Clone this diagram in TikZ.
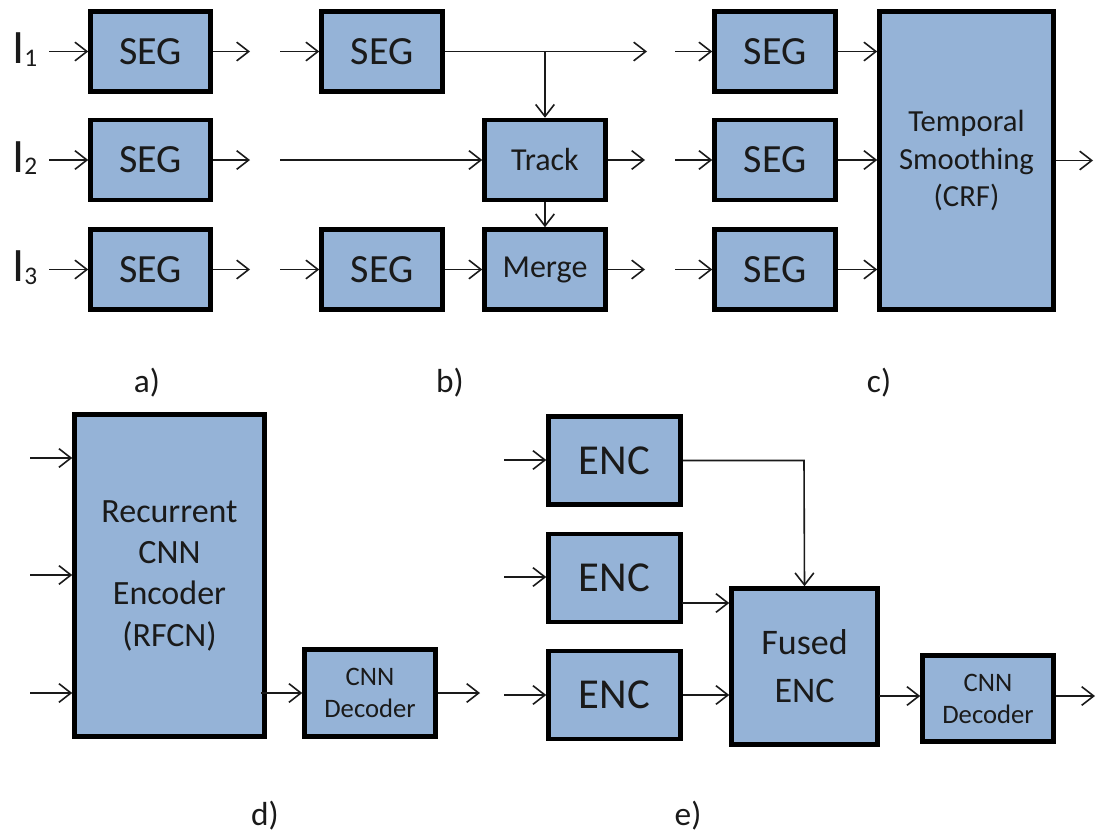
\documentclass[tikz,border=0pt]{standalone}
\usepackage{fontspec}
\setmainfont{Carlito}
\usetikzlibrary{arrows.meta}
\definecolor{boxblue}{HTML}{95B3D7}
\definecolor{ink}{HTML}{1A1A1A}
\begin{document}
\begin{tikzpicture}[x=0.75pt,y=-0.75pt,
  blk/.style={draw=black,line width=3.4pt,fill=boxblue,inner sep=0pt,align=center,text=ink},
  sz/.style 2 args={minimum width=#1*0.75pt,minimum height=#2*0.75pt},
  segf/.style={font=\fontsize{30}{36}\selectfont},
  midf/.style={font=\fontsize{24}{29}\selectfont},
  tmpf/.style={font=\fontsize{23}{28}\selectfont},
  recf/.style={font=\fontsize{25.5}{31}\selectfont},
  encf/.style={font=\fontsize{32}{38}\selectfont},
  fusf/.style={font=\fontsize{27}{36}\selectfont},
  decf/.style={font=\fontsize{20}{24}\selectfont},
  capf/.style={font=\fontsize{25}{30}\selectfont,text=ink},
  conn/.style={line width=1.2pt,draw=ink,-{Straight Barb[length=9pt,width=14pt,line width=1.2pt]}},
  wire/.style={line width=1.2pt,draw=ink}]
\useasboundingbox (0,0) rectangle (1096,836);

% ---------- a) independent segmentation ----------
\node[blk,segf,sz={120}{80}] (a1) at (150.5,51.5) {SEG};
\node[blk,segf,sz={120}{80}] (a2) at (150.5,160) {SEG};
\node[blk,segf,sz={120}{80}] (a3) at (150.5,269.5) {SEG};
\foreach \r/\y in {1/51.5,2/160,3/269.5}{
  \node[anchor=base west,inner sep=0pt,text=ink] (in\r) at (12,\y+12)
    {\fontsize{36}{36}\selectfont I\fontsize{19}{19}\selectfont\raisebox{-2pt}{\r}};
  \coordinate (as\r) at (49,\y);
  \coordinate (ae\r) at (250,\y);
  \draw[conn] (as\r) -- (a\r);
  \draw[conn] (a\r) -- (ae\r);
}
\node[capf,anchor=base] (la) at (147,392) {a)};

% ---------- b) track and merge ----------
\node[blk,segf,sz={121}{80}] (b1) at (382,51.5) {SEG};
\node[blk,segf,sz={121}{80}] (b3) at (382,269.5) {SEG};
\node[blk,midf,sz={121}{80}] (trk) at (545,160) {Track};
\node[blk,midf,sz={121}{80}] (mrg) at (545,269.5) {Merge};
\coordinate (bs1) at (280,51.5);
\coordinate (bs2) at (280,160);
\coordinate (bs3) at (280,269.5);
\coordinate (be1) at (647,51.5);
\coordinate (be2) at (645,160);
\coordinate (be3) at (645,269.5);
\coordinate (br) at (545,51.5);
\draw[conn] (bs1) -- (b1);
\draw[conn] (bs2) -- (trk);
\draw[conn] (bs3) -- (b3);
\draw[conn] (b1) -- (be1);
\draw[conn] (br) -- (trk);
\draw[conn] (trk) -- (mrg);
\draw[conn] (b3) -- (mrg);
\draw[conn] (trk) -- (be2);
\draw[conn] (mrg) -- (be3);
\node[capf,anchor=base] (lb) at (450,392) {b)};

% ---------- c) temporal smoothing ----------
\node[blk,tmpf,sz={174}{298}] (crf) at (966.5,160.5) {Temporal\\Smoothing\\(CRF)};
\foreach \r/\y in {1/51.5,2/160,3/269.5}{
  \node[blk,segf,sz={121}{80}] (c\r) at (775,\y) {SEG};
  \coordinate (cs\r) at (675,\y);
  \draw[conn] (cs\r) -- (c\r);
  \draw[conn] (c\r.east) -- (crf.west |- c\r.east);
}
\coordinate (ce) at (1093,160.5);
\draw[conn] (crf) -- (ce);
\node[capf,anchor=base] (lc) at (879,392) {c)};

% ---------- d) recurrent encoder ----------
\node[blk,recf,sz={190}{322}] (rec) at (169.5,575.5) {Recurrent\\CNN\\Encoder\\(RFCN)};
\node[blk,decf,sz={131}{87}] (dec1) at (370,693) {CNN\\Decoder};
\foreach \y in {458,575,693}{
  \coordinate (ds) at (30,\y);
  \draw[conn] (ds) -- (rec.west |- ds);
}
\coordinate (dst) at (261,693);
\coordinate (de) at (480,693);
\draw[conn] (dst) -- (dec1);
\draw[conn] (dec1) -- (de);
\node[capf,anchor=base] (ld) at (265,825) {d)};

% ---------- e) fused encoders ----------
\node[blk,encf,sz={132}{88}] (e1) at (614.5,460.5) {ENC};
\node[blk,encf,sz={132}{88}] (e2) at (614.5,578) {ENC};
\node[blk,encf,sz={132}{88}] (e3) at (614.5,695) {ENC};
\node[blk,fusf,sz={146}{156}] (fus) at (804.5,666.5) {Fused\\ENC};
\node[blk,decf,sz={131}{86}] (dec2) at (988,698.5) {CNN\\Decoder};
\foreach \i/\y in {1/460,2/577,3/695}{
  \coordinate (es\i) at (504,\y);
  \draw[conn] (es\i) -- (e\i.west |- es\i);
}
\coordinate (ek) at (804,460.5);
\draw[conn] (e1.east) -- (ek) -- (fus.north);
\coordinate (e2o) at (682,603);
\draw[conn] (e2o) -- (fus.west |- e2o);
\draw[conn] (e3.east) -- (fus.west |- e3.east);
\coordinate (fo) at (879,696);
\draw[conn] (fo) -- (dec2.west |- fo);
\coordinate (ee) at (1095,696);
\draw[conn] (dec2.east |- ee) -- (ee);
\node[capf,anchor=base] (le) at (688,825) {e)};
\end{tikzpicture}
\end{document}
